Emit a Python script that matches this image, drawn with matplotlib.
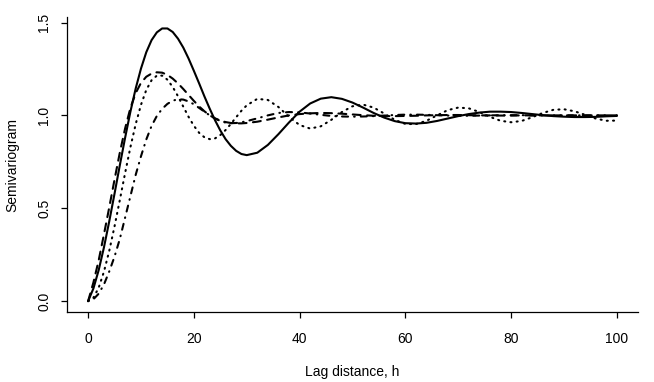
import matplotlib
matplotlib.use("Agg")
import matplotlib.pyplot as plt

plt.rcParams['font.family'] = ['Liberation Sans', 'DejaVu Sans']

h = [0, 1, 2, 3, 4, 5, 6, 7, 8, 9, 10, 11, 12, 13, 14, 15, 16, 17, 18, 19, 20,
     21, 22, 23, 24, 25, 26, 27, 28, 29, 30, 32, 34, 36, 38, 40, 42, 44, 46, 48,
     50, 52, 54, 56, 58, 60, 62, 64, 66, 68, 70, 72, 74, 76, 78, 80, 82, 84, 86,
     88, 90, 92, 94, 96, 98, 100]

solid = [0.0, 0.068, 0.167, 0.290, 0.430, 0.579, 0.732, 0.880, 1.020, 1.145,
         1.252, 1.340, 1.405, 1.447, 1.468, 1.468, 1.449, 1.413, 1.365, 1.306,
         1.240, 1.172, 1.102, 1.036, 0.974, 0.919, 0.872, 0.836, 0.809, 0.792,
         0.786, 0.799, 0.841, 0.899, 0.962, 1.020, 1.064, 1.090, 1.098, 1.089,
         1.069, 1.042, 1.013, 0.988, 0.969, 0.958, 0.956, 0.960, 0.970, 0.983,
         0.996, 1.007, 1.015, 1.020, 1.020, 1.018, 1.013, 1.007, 1.001, 0.996,
         0.993, 0.991, 0.991, 0.992, 0.995, 0.997]

dashed = [0.0, 0.10, 0.22, 0.36, 0.505, 0.655, 0.80, 0.93, 1.04, 1.12,
          1.175, 1.208, 1.225, 1.232, 1.230, 1.218, 1.198, 1.172, 1.142, 1.110,
          1.078, 1.048, 1.022, 1.000, 0.984, 0.972, 0.964, 0.959, 0.957, 0.957,
          0.959, 0.966, 0.977, 0.989, 1.000, 1.007, 1.011, 1.013, 1.012, 1.009,
          1.005, 1.001, 0.998, 0.996, 0.996, 0.997, 0.998, 1.000, 1.001, 1.002,
          1.002, 1.001, 1.000, 1.000, 0.999, 0.999, 1.000, 1.000, 1.000, 1.000,
          1.000, 1.000, 1.000, 1.000, 1.000, 1.000]

dotted = [0.0, 0.018, 0.072, 0.159, 0.271, 0.403, 0.545, 0.690, 0.829, 0.953,
          1.057, 1.137, 1.189, 1.214, 1.214, 1.192, 1.153, 1.103, 1.047, 0.992,
          0.944, 0.906, 0.882, 0.872, 0.876, 0.894, 0.921, 0.954, 0.990, 1.025,
          1.054, 1.089, 1.083, 1.045, 0.992, 0.948, 0.929, 0.941, 0.976, 1.018,
          1.049, 1.058, 1.042, 1.010, 0.976, 0.954, 0.953, 0.971, 1.000, 1.028,
          1.042, 1.038, 1.018, 0.992, 0.971, 0.963, 0.970, 0.990, 1.013, 1.030,
          1.033, 1.022, 1.003, 0.983, 0.971, 0.972]

dashdot = [0.0, 0.01, 0.04, 0.09, 0.16, 0.24, 0.335, 0.45, 0.565, 0.68,
           0.78, 0.87, 0.943, 0.997, 1.035, 1.062, 1.079, 1.087, 1.085, 1.075,
           1.060, 1.040, 1.020, 1.000, 0.983, 0.970, 0.961, 0.958, 0.959, 0.963,
           0.969, 0.984, 1.000, 1.013, 1.018, 1.016, 1.010, 1.003, 0.997, 0.994,
           0.993, 0.994, 0.996, 0.999, 1.002, 1.004, 1.004, 1.003, 1.001, 0.999,
           0.998, 0.998, 0.999, 1.000, 1.001, 1.001, 1.001, 1.000, 1.000, 1.000,
           1.000, 1.000, 1.000, 1.000, 1.000, 1.000]

xticks = [0, 20, 40, 60, 80, 100]
yticks = [0.0, 0.5, 1.0, 1.5]

fig = plt.figure(figsize=(6.54, 3.82), dpi=100)
ax = fig.add_axes([0.1024, 0.1832, 0.8731, 0.7710])

lw = 1.5
ax.plot(h, solid, color='black', lw=lw, solid_capstyle='round')
ax.plot(h, dashed, color='black', lw=lw, linestyle=(0, (3.8, 3.1)),
        dash_capstyle='round')
ax.plot(h, dotted, color='black', lw=lw, linestyle=(0, (0.5, 2.5)),
        dash_capstyle='round')
ax.plot(h, dashdot, color='black', lw=lw, linestyle=(0, (0.3, 2.9, 2.9, 2.9)),
        dash_capstyle='round')

ax.set_xlim(-4, 104)
ax.set_ylim(-0.0587, 1.527)
ax.set_xticks(xticks)
ax.set_xticklabels([str(t) for t in xticks])
ax.set_yticks(yticks)
ax.set_yticklabels(['%.1f' % t for t in yticks])

ax.spines['top'].set_visible(False)
ax.spines['right'].set_visible(False)
for s in ('left', 'bottom'):
    ax.spines[s].set_linewidth(0.9)

ax.tick_params(axis='both', direction='out', length=4.3, width=0.9,
               labelsize=10, colors='black')
ax.tick_params(axis='x', pad=10)
ax.tick_params(axis='y', pad=7, labelrotation=90)
for lab in ax.get_yticklabels():
    lab.set_va('center')

ax.set_xlabel('Lag distance, h', fontsize=10, va='center')
ax.set_ylabel('Semivariogram', fontsize=10, va='center')
ax.xaxis.set_label_coords(0.5, -0.2037)
ax.yaxis.set_label_coords(-0.0951, 0.5)

fig.savefig('out.png', dpi=100)
